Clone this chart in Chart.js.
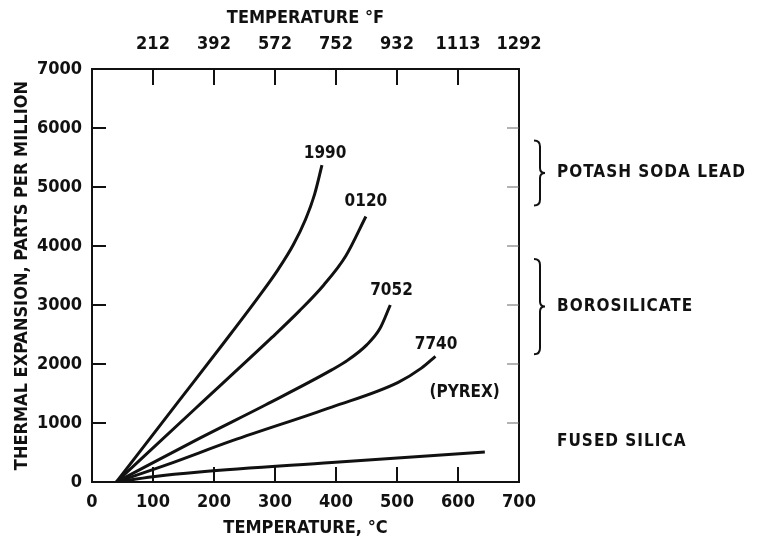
<!DOCTYPE html>
<html>
<head>
<meta charset="utf-8">
<script src="https://cdn.jsdelivr.net/npm/chart.js@4/dist/chart.umd.min.js"></script>
<style>
  body { margin: 0; background: #fff; }
  canvas { display: block; }
</style>
</head>
<body>
<canvas id="myChart" width="757" height="543"></canvas>
<script>
// temperatures in °C, expansion in parts per million
const temps1990 = [40, 140, 214, 274, 305, 330, 350, 365, 377];
const exp1990   = [0, 1340, 2330, 3150, 3600, 4020, 4450, 4880, 5370];

const temps0120 = [40, 170, 295, 340, 380, 416, 449];
const exp0120   = [0, 1250, 2450, 2900, 3340, 3830, 4500];

const temps7052 = [40, 176, 285, 393, 420, 450, 472, 489];
const exp7052   = [0, 740, 1310, 1900, 2070, 2320, 2600, 3000];

const temps7740 = [40, 122, 230, 393, 502, 540, 563];
const exp7740   = [0, 290, 700, 1270, 1690, 1930, 2130];

const tempsSilica = [40, 100, 176, 393, 644];
const expSilica   = [0, 90, 170, 330, 510];

const fahrenheitLabels = ["", "212", "392", "572", "752", "932", "1113", "1292"];

const FONT = "'DejaVu Sans Condensed', 'DejaVu Sans', sans-serif";

function toPoints(xs, ys) {
    let pts = [];
    for (let i = 0; i < xs.length; i++) pts.push({ x: xs[i], y: ys[i] });
    return pts;
}

function line(xs, ys) {
    return {
        data: toPoints(xs, ys),
        borderColor: "#111",
        borderWidth: 3,
        pointRadius: 0,
        cubicInterpolationMode: "monotone",
        fill: false
    };
}

// frame, inward ticks, curve labels and the glass groups on the right
const decorations = {
    id: "decorations",
    afterDraw(chart) {
        const ctx = chart.ctx;
        const a = chart.chartArea;
        const x = chart.scales.x, y = chart.scales.y;
        ctx.save();
        ctx.strokeStyle = "#111";
        ctx.lineWidth = 2;
        ctx.strokeRect(a.left, a.top, a.right - a.left, a.bottom - a.top);

        ctx.beginPath();
        for (let v = 100; v <= 600; v += 100) {
            const px = x.getPixelForValue(v);
            ctx.moveTo(px, a.bottom); ctx.lineTo(px, a.bottom - 15);
            ctx.moveTo(px, a.top); ctx.lineTo(px, a.top + 16);
        }
        for (let v = 1000; v <= 6000; v += 1000) {
            const py = y.getPixelForValue(v);
            ctx.moveTo(a.left, py); ctx.lineTo(a.left + 14, py);
        }
        ctx.stroke();

        ctx.lineWidth = 1;
        ctx.strokeStyle = "#666";
        ctx.beginPath();
        for (let v = 1000; v <= 6000; v += 1000) {
            const py = y.getPixelForValue(v);
            ctx.moveTo(a.right, py); ctx.lineTo(a.right - 12, py);
        }
        ctx.stroke();

        ctx.fillStyle = "#111";
        ctx.font = "bold 17px " + FONT;
        ctx.textAlign = "center";
        ctx.textBaseline = "middle";
        const labels = [
            ["1990", 382, 5570], ["0120", 449, 4750], ["7052", 491, 3240],
            ["7740", 564, 2330], ["(PYREX)", 611, 1510]
        ];
        labels.forEach(l => ctx.fillText(l[0], x.getPixelForValue(l[1]), y.getPixelForValue(l[2])));

        // braces
        ctx.strokeStyle = "#111";
        ctx.lineWidth = 2;
        const bx = a.right + 15;
        function brace(top, bottom) {
            const t = y.getPixelForValue(top), b = y.getPixelForValue(bottom);
            const m = (t + b) / 2;
            ctx.beginPath();
            ctx.moveTo(bx, t);
            ctx.quadraticCurveTo(bx + 6, t, bx + 6, t + 6);
            ctx.lineTo(bx + 6, m - 5);
            ctx.quadraticCurveTo(bx + 6, m, bx + 11, m);
            ctx.quadraticCurveTo(bx + 6, m, bx + 6, m + 5);
            ctx.lineTo(bx + 6, b - 6);
            ctx.quadraticCurveTo(bx + 6, b, bx, b);
            ctx.stroke();
            return m;
        }
        ctx.textAlign = "left";
        ctx.letterSpacing = "1px";
        const m1 = brace(5790, 4685);
        ctx.fillText("POTASH SODA LEAD", a.right + 38, m1);
        const m2 = brace(3780, 2165);
        ctx.fillText("BOROSILICATE", a.right + 38, m2);
        ctx.fillText("FUSED SILICA", a.right + 38, y.getPixelForValue(680));
        ctx.restore();
    }
};

new Chart("myChart", {
    type: "line",
    data: {
        datasets: [
            line(temps1990, exp1990),
            line(temps0120, exp0120),
            line(temps7052, exp7052),
            line(temps7740, exp7740),
            line(tempsSilica, expSilica)
        ]
    },
    options: {
        responsive: false,
        animation: false,
        layout: { padding: { left: 0, right: 238, top: 0, bottom: 0 } },
        plugins: { legend: { display: false }, tooltip: { enabled: false } },
        scales: {
            x: {
                type: "linear", position: "bottom", min: 0, max: 700,
                afterFit(s) { s.height = 61; },
                grid: { display: false, drawTicks: false }, border: { display: false },
                ticks: { stepSize: 100, padding: 10, color: "#111", font: { family: FONT, size: 18, weight: "bold" } },
                title: { display: true, text: "TEMPERATURE, °C", color: "#111", padding: { top: 0, bottom: 4 },
                         font: { family: FONT, size: 18, weight: "bold" } }
            },
            x2: {
                type: "linear", position: "top", min: 0, max: 700,
                afterFit(s) { s.height = 69; },
                grid: { display: false, drawTicks: false }, border: { display: false },
                ticks: { stepSize: 100, padding: 14, color: "#111", font: { family: FONT, size: 18, weight: "bold" },
                         callback: (v) => fahrenheitLabels[Math.round(v / 100)] },
                title: { display: true, text: "TEMPERATURE °F", color: "#111", padding: { top: 8, bottom: 0 },
                         font: { family: FONT, size: 18, weight: "bold" } }
            },
            y: {
                type: "linear", min: 0, max: 7000,
                afterFit(s) { s.width = 92; },
                grid: { display: false, drawTicks: false }, border: { display: false },
                ticks: { stepSize: 1000, padding: 10, color: "#111", font: { family: FONT, size: 18, weight: "bold" },
                         callback: (v) => String(v) },
                title: { display: true, text: "THERMAL EXPANSION, PARTS PER MILLION", color: "#111", padding: { top: 12, bottom: 0 },
                         font: { family: FONT, size: 18, weight: "bold" } }
            }
        }
    },
    plugins: [decorations]
});
</script>
</body>
</html>
